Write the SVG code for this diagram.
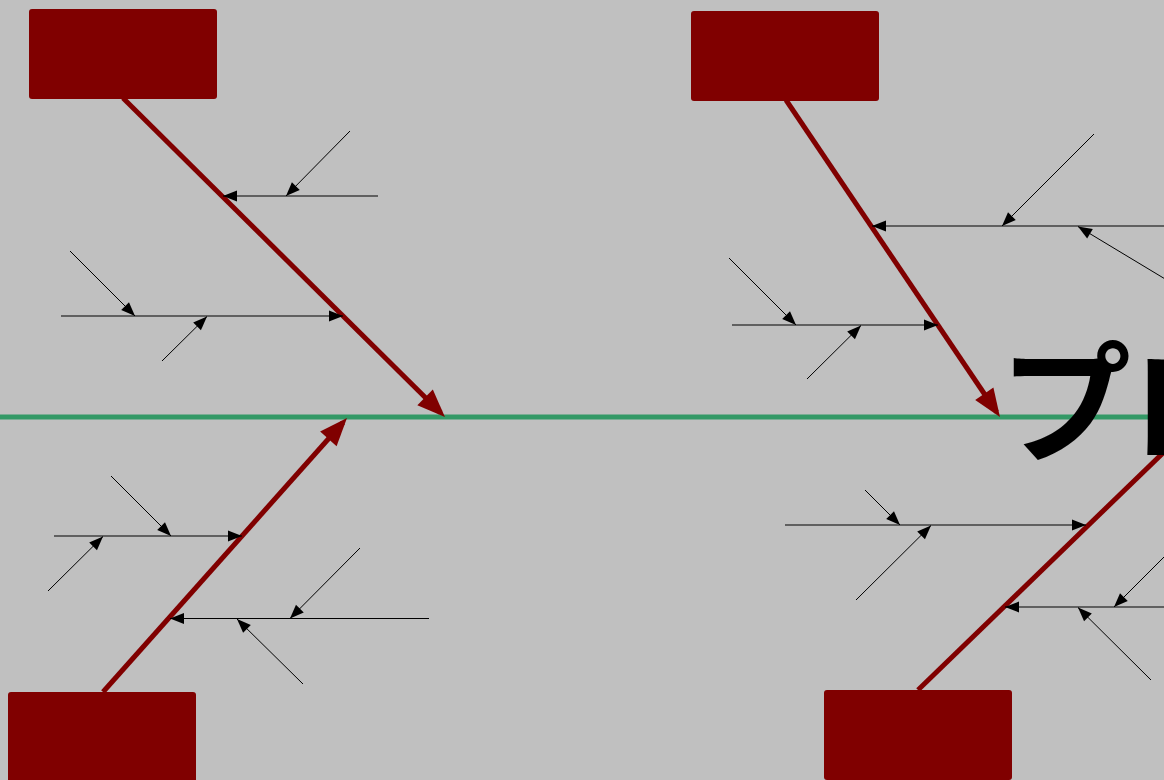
<svg xmlns="http://www.w3.org/2000/svg" width="1164" height="780" viewBox="0 0 1164 780">
<style>
.bg{fill:#c0c0c0}
.spine{stroke:#339966;stroke-width:5;fill:none}
.bone{stroke:#800000;stroke-width:5;fill:none;marker-end:url(#bigArrow)}
.sub{stroke:#000;stroke-width:1;fill:none;marker-end:url(#smallArrow)}
.box{fill:#800000}
.title{font-family:"Noto Sans CJK JP","Noto Sans",sans-serif;font-weight:bold;font-size:131px;fill:#000}
</style>
<defs>
<marker id="bigArrow" markerUnits="userSpaceOnUse" markerWidth="28" markerHeight="22" refX="22" refY="11" orient="auto" overflow="visible">
<path d="M0,0 L28,11 L0,22 z" fill="#800000"/>
</marker>
<marker id="smallArrow" markerUnits="userSpaceOnUse" markerWidth="14" markerHeight="11" refX="14" refY="5.5" orient="auto" overflow="visible">
<path d="M0,0 L14,5.5 L0,11 z" fill="#000"/>
</marker>
</defs>
<rect class="bg" x="0" y="0" width="1164" height="780"/>
<g id="connectors">
<line class="spine" x1="0" y1="417" x2="1164" y2="417"/>
<line class="bone" x1="123" y1="98" x2="440.7" y2="412.8"/>
<line class="bone" x1="786" y1="100" x2="996.6" y2="412"/>
<line class="bone" x1="103" y1="692" x2="343" y2="422.5"/>
<line class="bone" x1="918" y1="690" x2="1195.5" y2="421.5"/>
<line class="sub" x1="378" y1="196" x2="223" y2="196"/>
<line class="sub" x1="350" y1="131" x2="286" y2="196"/>
<line class="sub" x1="61" y1="316" x2="343" y2="316"/>
<line class="sub" x1="70" y1="251" x2="135" y2="316"/>
<line class="sub" x1="162" y1="361" x2="207" y2="316.5"/>
<line class="sub" x1="1200" y1="226" x2="872" y2="226"/>
<line class="sub" x1="1094" y1="134" x2="1002" y2="226"/>
<line class="sub" x1="1190" y1="294" x2="1078" y2="226.5"/>
<line class="sub" x1="732" y1="325" x2="938" y2="325"/>
<line class="sub" x1="729" y1="258" x2="796" y2="325"/>
<line class="sub" x1="807" y1="379" x2="861" y2="325.5"/>
<line class="sub" x1="54" y1="536" x2="242" y2="536"/>
<line class="sub" x1="111" y1="476" x2="171" y2="536"/>
<line class="sub" x1="48" y1="591" x2="103" y2="536.5"/>
<line class="sub" x1="429" y1="618.5" x2="170" y2="618.5"/>
<line class="sub" x1="360" y1="548" x2="290" y2="618.5"/>
<line class="sub" x1="303" y1="684" x2="237" y2="619"/>
<line class="sub" x1="785" y1="525" x2="1086" y2="525"/>
<line class="sub" x1="865" y1="490" x2="900" y2="525"/>
<line class="sub" x1="856" y1="600" x2="931" y2="525.5"/>
<line class="sub" x1="1200" y1="607" x2="1005" y2="607"/>
<line class="sub" x1="1180" y1="541" x2="1114" y2="607"/>
<line class="sub" x1="1151" y1="680" x2="1078" y2="607.5"/>
</g>
<g id="node-cause1"><rect class="box" x="29" y="9" width="188" height="90" rx="3"/></g>
<g id="node-cause2"><rect class="box" x="691" y="11" width="188" height="90" rx="3"/></g>
<g id="node-cause3"><rect class="box" x="8" y="692" width="188" height="90" rx="3"/></g>
<g id="node-cause4"><rect class="box" x="824" y="690" width="188" height="90" rx="3"/></g>
<g id="node-effect"><text class="title" x="1000" y="452">プロ</text></g>
</svg>
